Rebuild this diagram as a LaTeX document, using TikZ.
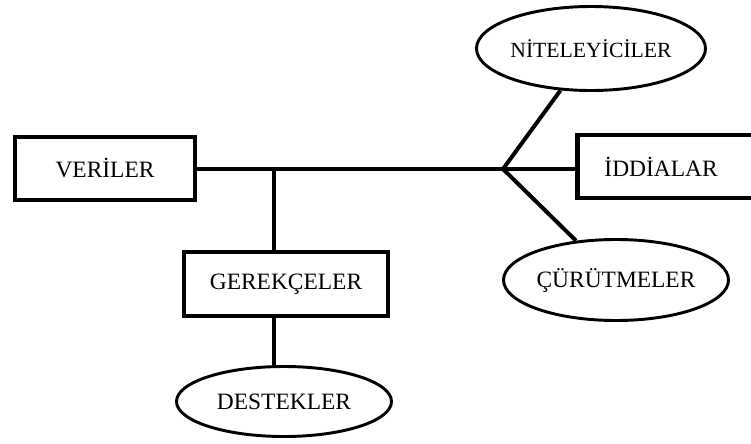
\documentclass[tikz,border=0pt]{standalone}
\usepackage{fontspec}
\setmainfont{Liberation Serif}
\usepackage{tikz}
\usetikzlibrary{shapes.geometric, positioning}

\tikzset{
  kutu/.style={draw, rectangle, line width=4.2pt, minimum height=1.89cm, font=\fontsize{20}{24}\selectfont},
  balon/.style={draw, ellipse, line width=2.5pt, inner xsep=-1cm, inner ysep=0pt, font=\fontsize{20}{24}\selectfont},
  hat/.style={line width=3.4pt}
}

\begin{document}
\begin{tikzpicture}[x=0.03cm, y=-0.03cm]
\useasboundingbox (0,0) rectangle (751,443);
\clip (0,0) rectangle (751,443);
\node[kutu, minimum width=5.4cm] (veri) at (105,168.5) {VERİLER};
\node[kutu, anchor=west, text width=5cm, inner xsep=0.81cm, align=left] (iddia) at (575,166.5) {İDDİALAR};
\node[kutu, minimum width=6.12cm, minimum height=1.92cm] (gerekce) at (286,284) {GEREKÇELER};
\node[balon, minimum width=6.45cm, minimum height=2.1cm] (destek) at (284,401.5) {DESTEKLER};
\node[balon, minimum width=6.87cm, minimum height=2.52cm, font=\fontsize{18.5}{22}\selectfont] (nitel) at (591,48.5) {NİTELEYİCİLER};
\node[balon, minimum width=6.75cm, minimum height=2.43cm] (curut) at (616,280) {ÇÜRÜTMELER};

\coordinate (stem) at (274,169);
\coordinate (fork) at (503,169);
\draw[hat] (veri.east |- stem) -- (iddia.west |- stem);
\draw[hat] (stem) -- (stem |- gerekce.north);
\draw[hat] (stem |- gerekce.south) -- (stem |- destek.north);
\draw[hat] (fork) -- (nitel);
\draw[hat] (fork) -- (curut);
\end{tikzpicture}
\end{document}
